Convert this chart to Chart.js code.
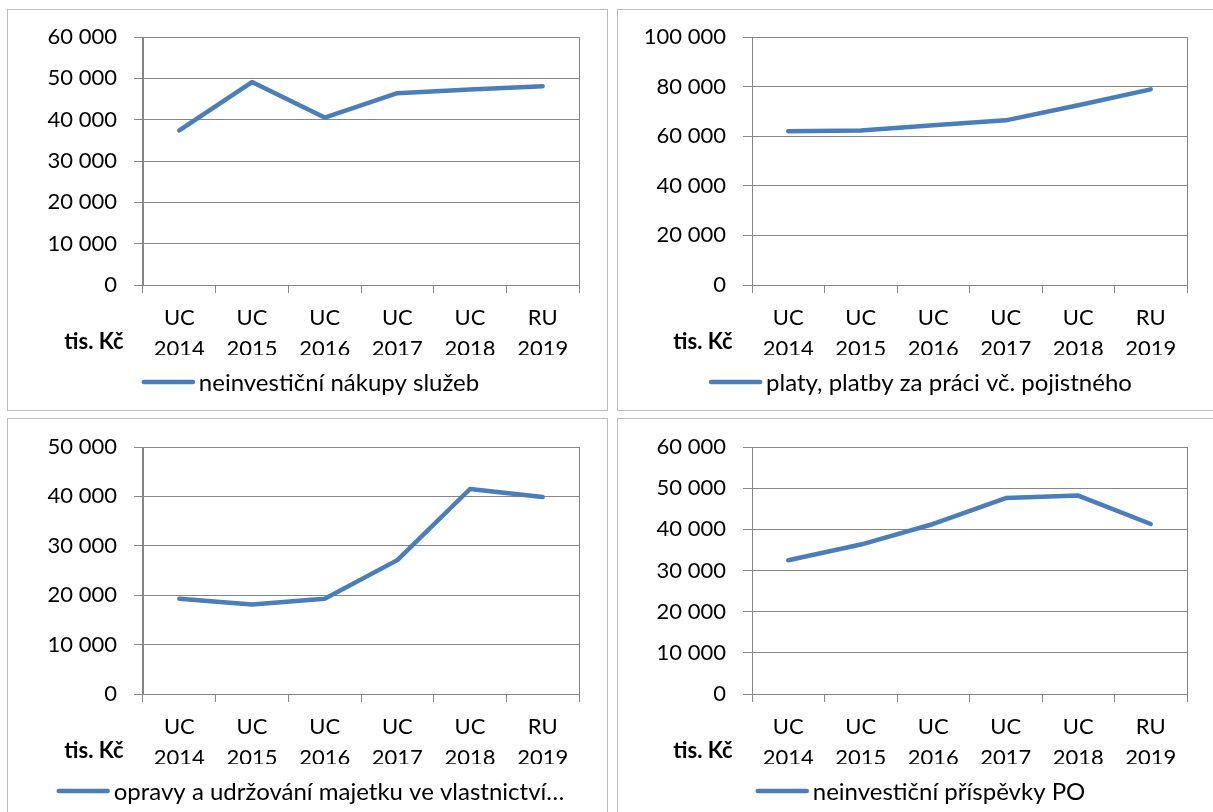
<!DOCTYPE html>
<html lang="cs">
<head>
<meta charset="utf-8">
<title>Vybrané výdaje</title>
<script src="https://cdn.jsdelivr.net/npm/chart.js@4/dist/chart.umd.min.js"></script>
<style>
  html, body { margin: 0; padding: 0; background: #fff; }
  body { width: 1213px; height: 812px; overflow: hidden; position: relative; }
  .panel { position: absolute; box-sizing: border-box; border: 1px solid #bcbcbc; background: #fff; }
  .panel canvas { position: absolute; left: 0; top: 0; }
</style>
</head>
<body>
<div class="panel" id="p1" style="left:7px; top:9px; width:601px; height:402px;"><canvas id="c1" width="599" height="400"></canvas></div>
<div class="panel" id="p2" style="left:617px; top:9px; width:601px; height:402px;"><canvas id="c2" width="599" height="400"></canvas></div>
<div class="panel" id="p3" style="left:7px; top:418px; width:601px; height:402px;"><canvas id="c3" width="599" height="400"></canvas></div>
<div class="panel" id="p4" style="left:617px; top:418px; width:601px; height:402px;"><canvas id="c4" width="599" height="400"></canvas></div>
<script>
// Categories (two-line axis labels) and the unit shown under the value axis
const categories = [['UC', '2014'], ['UC', '2015'], ['UC', '2016'], ['UC', '2017'], ['UC', '2018'], ['RU', '2019']];
const unitLabel = 'tis. Kč';

// Series values in thousands of CZK
const nakupySluzeb = [37400, 49100, 40500, 46400, 47300, 48100];
const platy = [62000, 62300, 64400, 66400, 72500, 78900];
const opravy = [19300, 18100, 19300, 27100, 41500, 39900];
const prispevkyPO = [32500, 36300, 41300, 47600, 48200, 41300];

// Series names
const nameNakupy = 'neinvestiční nákupy služeb';
const namePlaty = 'platy, platby za práci vč. pojistného';
const nameOpravy = 'opravy a udržování majetku ve vlastnictví…';
const namePrispevky = 'neinvestiční příspěvky PO';

// Value-axis ranges: [max, step]
const axisNakupy = [60000, 10000];
const axisPlaty = [100000, 20000];
const axisOpravy = [50000, 10000];
const axisPrispevky = [60000, 10000];

const FONT = 'Lato, "Liberation Sans", sans-serif';
const LINE_BLUE = '#4a7ebb';
const GRID = '#868686';

Chart.defaults.font.family = FONT;
Chart.defaults.font.size = 22;
Chart.defaults.color = '#000';
Chart.defaults.animation = false;

function fmtThousands(v) {
  return String(v).replace(/\B(?=(\d{3})+(?!\d))/g, ' ');
}

// Draws the unit caption and a line-sample legend under the category axis
const captionsPlugin = {
  id: 'captions',
  afterDraw(chart) {
    const ctx = chart.ctx;
    const a = chart.chartArea;
    ctx.save();
    ctx.fillStyle = '#000';
    ctx.textBaseline = 'middle';
    ctx.textAlign = 'center';
    ctx.font = 'bold 22px ' + FONT;
    ctx.fillText(unitLabel, a.left - 49, a.bottom + 57);

    const ds = chart.data.datasets[0];
    ctx.font = '24px ' + FONT;
    const tw = ctx.measureText(ds.label).width;
    const lineLen = 53, gap = 4;
    const total = lineLen + gap + tw;
    const x0 = chart.width / 2 + 3 - total / 2;
    const y = a.bottom + 97;
    ctx.strokeStyle = ds.borderColor;
    ctx.lineWidth = 4.5;
    ctx.lineCap = 'round';
    ctx.beginPath();
    ctx.moveTo(x0 + 2, y);
    ctx.lineTo(x0 + lineLen - 2, y);
    ctx.stroke();
    ctx.textAlign = 'left';
    ctx.fillText(ds.label, x0 + lineLen + gap, y + 1);
    ctx.restore();
  }
};

function makeChart(id, name, values, axis, area) {
  const canvas = document.getElementById(id);
  const W = canvas.width, H = canvas.height;
  const xAxisH = 70;
  return new Chart(canvas, {
    type: 'line',
    data: {
      labels: categories,
      datasets: [{
        label: name,
        data: values,
        borderColor: LINE_BLUE,
        backgroundColor: LINE_BLUE,
        borderWidth: 4.5,
        borderCapStyle: 'round',
        borderJoinStyle: 'round',
        pointRadius: 0,
        pointHoverRadius: 0,
        tension: 0,
        fill: false
      }]
    },
    options: {
      responsive: false,
      maintainAspectRatio: false,
      events: [],
      layout: {
        padding: { left: 0, top: area.top, right: W - area.right, bottom: H - area.bottom - xAxisH }
      },
      plugins: {
        legend: { display: false },
        tooltip: { enabled: false }
      },
      scales: {
        x: {
          offset: true,
          grid: {
            offset: true,
            lineWidth: 1,
            color: (c) => (c.index === 0 || c.index === undefined) ? GRID : 'rgba(0,0,0,0)',
            tickColor: GRID,
            tickLength: 8,
            drawTicks: true
          },
          border: { display: true, color: GRID, width: 1 },
          ticks: {
            padding: 9.5,
            maxRotation: 0,
            autoSkip: false,
            font: { size: 22, lineHeight: 31 / 22 },
            color: '#000'
          },
          afterFit(scale) { scale.height = xAxisH; }
        },
        y: {
          min: 0,
          max: axis[0],
          grid: { color: GRID, lineWidth: 1, tickColor: GRID, tickLength: 9, drawTicks: true },
          border: { display: true, color: GRID, width: 1 },
          ticks: {
            stepSize: axis[1],
            padding: 17,
            color: '#000',
            font: { size: 22 },
            callback: (v) => fmtThousands(v)
          },
          afterFit(scale) {
            scale.width = area.left;
            // the plot area edges are fixed by the layout padding
            scale.paddingTop = 0;
            scale.paddingBottom = 0;
          }
        }
      }
    },
    plugins: [captionsPlugin]
  });
}

makeChart('c1', nameNakupy, nakupySluzeb, axisNakupy, { left: 135, right: 571, top: 27, bottom: 275 });
makeChart('c2', namePlaty, platy, axisPlaty, { left: 134, right: 569, top: 27, bottom: 275 });
makeChart('c3', nameOpravy, opravy, axisOpravy, { left: 135, right: 571, top: 28, bottom: 275 });
makeChart('c4', namePrispevky, prispevkyPO, axisPrispevky, { left: 134, right: 569, top: 28, bottom: 275 });
</script>
</body>
</html>
